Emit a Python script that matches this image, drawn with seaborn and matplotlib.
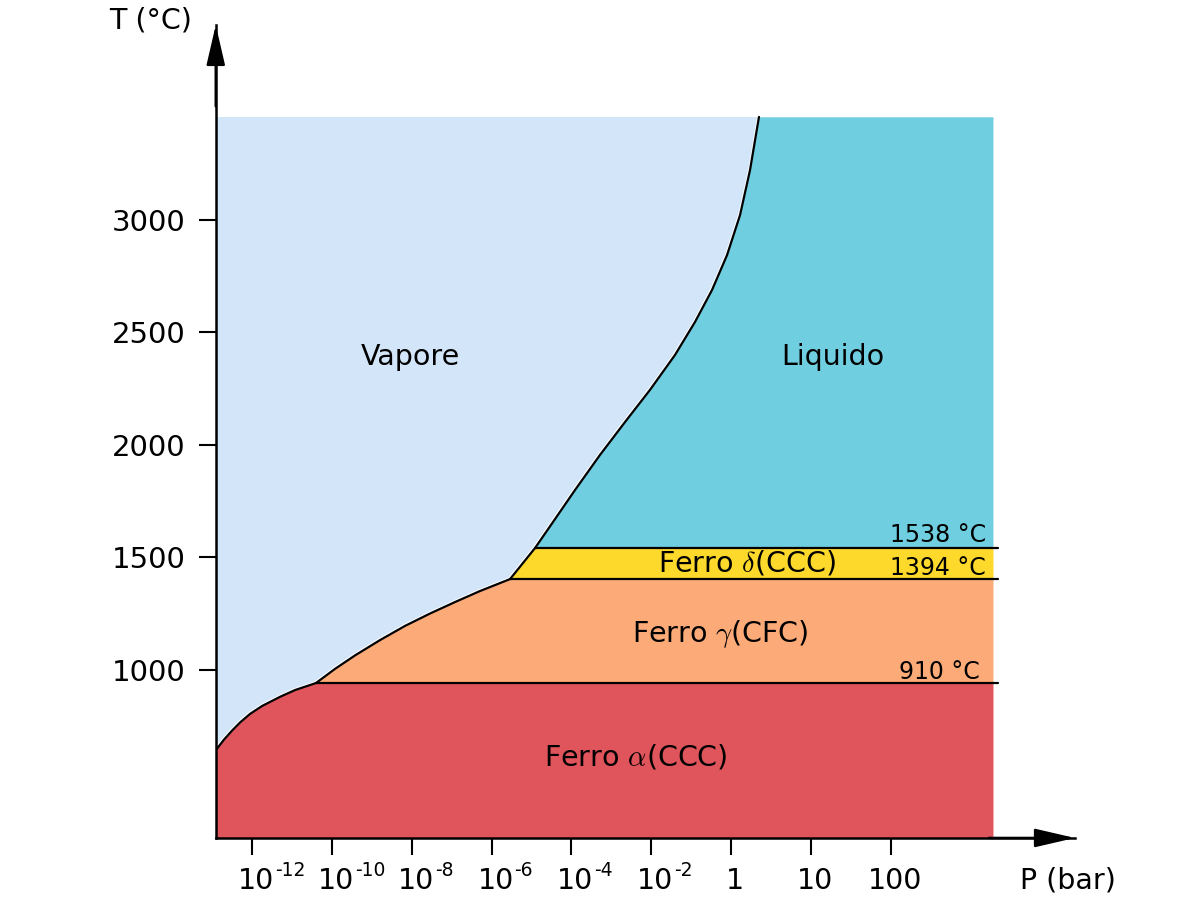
import matplotlib
matplotlib.use("Agg")
import matplotlib.pyplot as plt
import matplotlib.transforms as mtransforms
import seaborn as sns
import pandas as pd

# ---------------- data ----------------
# pressure axis: equally spaced tick slots (index) with their labels
p_ticks = [0, 1, 2, 3, 4, 5, 6, 7, 8]
p_base = ["10", "10", "10", "10", "10", "10", "1", "10", "100"]
p_exp = ["-12", "-10", "-8", "-6", "-4", "-2", "", "", ""]
t_ticks = [1000, 1500, 2000, 2500, 3000]

# phase boundaries (x = pressure slot, y = temperature in °C, as drawn)
alpha_vap_p = [-0.451, -0.351, -0.250, -0.150, -0.025, 0.125, 0.351, 0.539, 0.80]
alpha_vap_t = [645, 691, 731, 767, 805, 840, 881, 911, 942]
gamma_vap_p = [0.80, 1.039, 1.290, 1.603, 1.916, 2.229, 2.542, 2.855, 3.231]
gamma_vap_t = [942, 1005, 1065, 1133, 1196, 1251, 1302, 1351, 1404]
delta_vap_p = [3.231, 3.544]
delta_vap_t = [1404, 1542]
liq_vap_p = [3.544, 3.795, 4.045, 4.358, 4.671, 4.984, 5.297, 5.548,
             5.761, 5.949, 6.112, 6.237, 6.349]
liq_vap_t = [1542, 1671, 1800, 1956, 2102, 2245, 2400, 2547,
             2689, 2844, 3022, 3222, 3458]

# transition temperatures (as drawn) and their labels
trans_t = [942, 1404, 1542]
trans_start_p = [0.80, 3.231, 3.544]
trans_labels = ["910 °C", "1394 °C", "1538 °C"]
trans_label_p = [9.12, 9.19, 9.19]
trans_label_t = [991, 1453, 1600]

# phase names
phase_names = ["Vapore", "Liquido", r"Ferro $\delta$(CCC)",
               r"Ferro $\gamma$(CFC)", r"Ferro $\alpha$(CCC)"]
phase_p = [1.98, 7.28, 6.20, 5.86, 4.81]
phase_t = [2391, 2391, 1476, 1160, 613]

colors = {"vap": "#d3e5f9", "liq": "#6fcee0", "delta": "#fdd92b",
          "gamma": "#fcab78", "alpha": "#e0545c"}

# ---------------- plot ----------------
sns.set_style("white")
plt.rcParams["font.family"] = ["DejaVu Sans"]
plt.rcParams["text.color"] = "black"

DPI = 100
fig = plt.figure(figsize=(12, 8.99), dpi=DPI)
ax = fig.add_axes([0.1798, 0.0679, 0.716, 0.9043])

x_lo, x_hi = -0.455, 10.307
y_lo, y_hi = 253.5, 3866.7
t_top = 3458
p_right_fill = 9.28
p_right_line = 9.34

# areas
ax.fill_between([x_lo, p_right_fill], y_lo, t_top, color=colors["vap"], lw=0)
ax.fill_between(alpha_vap_p + [p_right_fill], y_lo, alpha_vap_t + [trans_t[0]],
                color=colors["alpha"], lw=0)
ax.fill_between(gamma_vap_p + [p_right_fill], trans_t[0], gamma_vap_t + [trans_t[1]],
                color=colors["gamma"], lw=0)
ax.fill_between(delta_vap_p + [p_right_fill], trans_t[1], delta_vap_t + [trans_t[2]],
                color=colors["delta"], lw=0)
ax.fill_between(liq_vap_p + [p_right_fill], trans_t[2], liq_vap_t + [t_top],
                color=colors["liq"], lw=0)

# thin white halo on the vapour side of the boundary, then the black boundary
halo = mtransforms.offset_copy(ax.transData, fig=fig, x=-0.9, y=0.9, units="dots")
for px, ty in [(alpha_vap_p, alpha_vap_t), (gamma_vap_p, gamma_vap_t),
               (delta_vap_p, delta_vap_t), (liq_vap_p, liq_vap_t)]:
    df = pd.DataFrame({"p": px, "t": ty})
    ax.plot(df["p"], df["t"], color="white", lw=1.4, alpha=0.9,
            transform=halo, solid_capstyle="butt")
    sns.lineplot(data=df, x="p", y="t", sort=False, estimator=None,
                 color="black", lw=1.6, ax=ax)

# horizontal transition lines
for t, p0 in zip(trans_t, trans_start_p):
    df = pd.DataFrame({"p": [p0, p_right_line], "t": [t, t]})
    sns.lineplot(data=df, x="p", y="t", sort=False, estimator=None,
                 color="black", lw=1.6, ax=ax)

# transition labels
for lab, px, ty in zip(trans_labels, trans_label_p, trans_label_t):
    ax.text(px, ty, lab, ha="right", va="center", fontsize=17)

# phase names
for name, px, ty in zip(phase_names, phase_p, phase_t):
    ax.text(px, ty, name, ha="center", va="center", fontsize=20.5,
            math_fontfamily="cm")

ax.set_xlim(x_lo, x_hi)
ax.set_ylim(y_lo, y_hi)
ax.set_xticks(p_ticks)
ax.set_xticklabels(p_base)
ax.set_yticks(t_ticks)
ax.set_xlabel("")
ax.set_ylabel("")
ax.tick_params(axis="both", direction="out", length=12.5, width=1.5,
               colors="black", bottom=True, left=True)
ax.tick_params(axis="x", pad=8.5, labelsize=20.5)
ax.tick_params(axis="y", pad=9, labelsize=21)

# shift x tick labels slightly right, as in the reference
shift = mtransforms.ScaledTranslation(4 / DPI, 0, fig.dpi_scale_trans)
for lab in ax.get_xticklabels():
    lab.set_transform(lab.get_transform() + shift)

# exponent superscripts
for tk, ex in zip(p_ticks, p_exp):
    if ex:
        tr = ax.get_xaxis_transform() + mtransforms.ScaledTranslation(
            23 / DPI, -38 / DPI, fig.dpi_scale_trans)
        ax.text(tk, 0, ex, transform=tr, ha="left", va="baseline",
                fontsize=13.5, clip_on=False)

for s in ["top", "right"]:
    ax.spines[s].set_visible(False)
for s in ["left", "bottom"]:
    ax.spines[s].set_color("black")
    ax.spines[s].set_linewidth(1.8)
    ax.spines[s].set_zorder(5)

# arrow heads
arrow = dict(arrowstyle="-|>,head_length=0.95,head_width=0.22",
             mutation_scale=26, color="black", lw=1.8, shrinkA=0, shrinkB=0)
ax.annotate("", xy=(0, 1), xytext=(0, 0.9), xycoords="axes fraction",
            arrowprops=arrow, annotation_clip=False)
ax.annotate("", xy=(1, 0), xytext=(0.9, 0), xycoords="axes fraction",
            arrowprops=arrow, annotation_clip=False)

fig.text(151 / 1200, 1 - 20 / 899, "T (°C)", ha="center", va="center", fontsize=20.5)
fig.text(1068 / 1200, 1 - 880 / 899, "P (bar)", ha="center", va="center", fontsize=20.5)

fig.savefig("out.png", dpi=DPI, facecolor="white")
